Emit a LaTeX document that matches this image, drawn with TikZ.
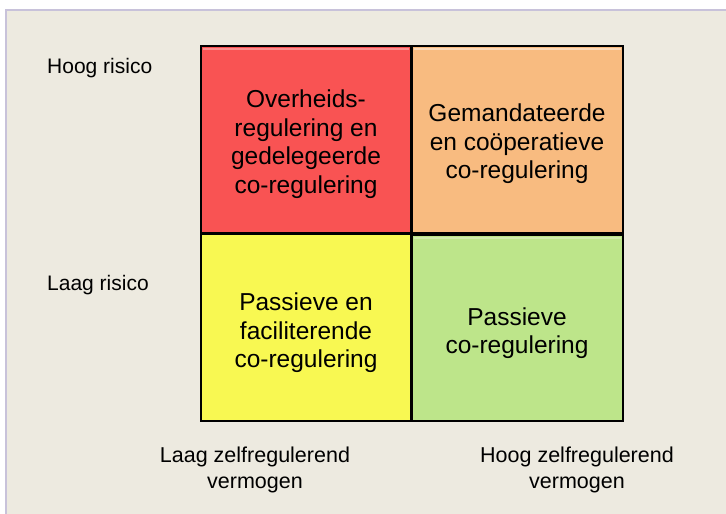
\documentclass[tikz,border=0pt]{standalone}
\usepackage{fontspec}
\setmainfont{Liberation Sans}
\definecolor{bgbeige}{HTML}{EDEAE0}
\definecolor{framelav}{HTML}{C8C2DA}
\definecolor{qred}{HTML}{F95353}
\definecolor{qorange}{HTML}{F8BB80}
\definecolor{qyellow}{HTML}{F8F852}
\definecolor{qgreen}{HTML}{BDE58A}
\tikzset{
  quad/.style={draw=black, line width=2pt},
  quadtext/.style={align=center, font=\fontsize{24.5}{28.5}\selectfont, inner sep=0pt},
  sidelabel/.style={anchor=base west, font=\fontsize{21}{24}\selectfont, inner sep=0pt},
  axislabel/.style={anchor=base, align=center, font=\fontsize{21.5}{26}\selectfont, inner sep=0pt},
}
\begin{document}
\begin{tikzpicture}[x=1pt,y=-1pt]
\useasboundingbox (0,0) rectangle (726,514);
\fill[white] (0,0) rectangle (726,514);
\fill[bgbeige] (6,10) rectangle (726,514);
\draw[framelav, line width=1.5pt] (6,514) -- (6,10) -- (726,10);
% quadrants
\filldraw[quad, fill=qred] (201,46) rectangle (411,233);
\filldraw[quad, fill=qorange] (412,46) rectangle (623,233);
\filldraw[quad, fill=qyellow] (201,234) rectangle (411,421);
\filldraw[quad, fill=qgreen] (412,235) rectangle (623,421);
% bevel highlights
\draw[white, opacity=0.35, line width=1.5pt] (203,49) -- (409,49);
\draw[white, opacity=0.45, line width=1.5pt] (414,49) -- (621,49);
\draw[white, opacity=0.3, line width=1.5pt] (414,238) -- (621,238);
% texts
\node[quadtext] (tl) at (306,144) {Overheids-\\regulering en\\gedelegeerde\\co-regulering};
\node[quadtext] (tr) at (517,144) {Gemandateerde\\en coöperatieve\\co-regulering};
\node[quadtext] (bl) at (306,333) {Passieve en\\faciliterende\\co-regulering};
\node[quadtext] (br) at (517,333) {Passieve\\co-regulering};
\node[sidelabel] (hr) at (47,73) {Hoog risico};
\node[sidelabel] (lr) at (47,290) {Laag risico};
\node[axislabel] (lz) at (255,488) {Laag zelfregulerend\\vermogen};
\node[axislabel] (hz) at (577,488) {Hoog zelfregulerend\\vermogen};
\end{tikzpicture}
\end{document}
